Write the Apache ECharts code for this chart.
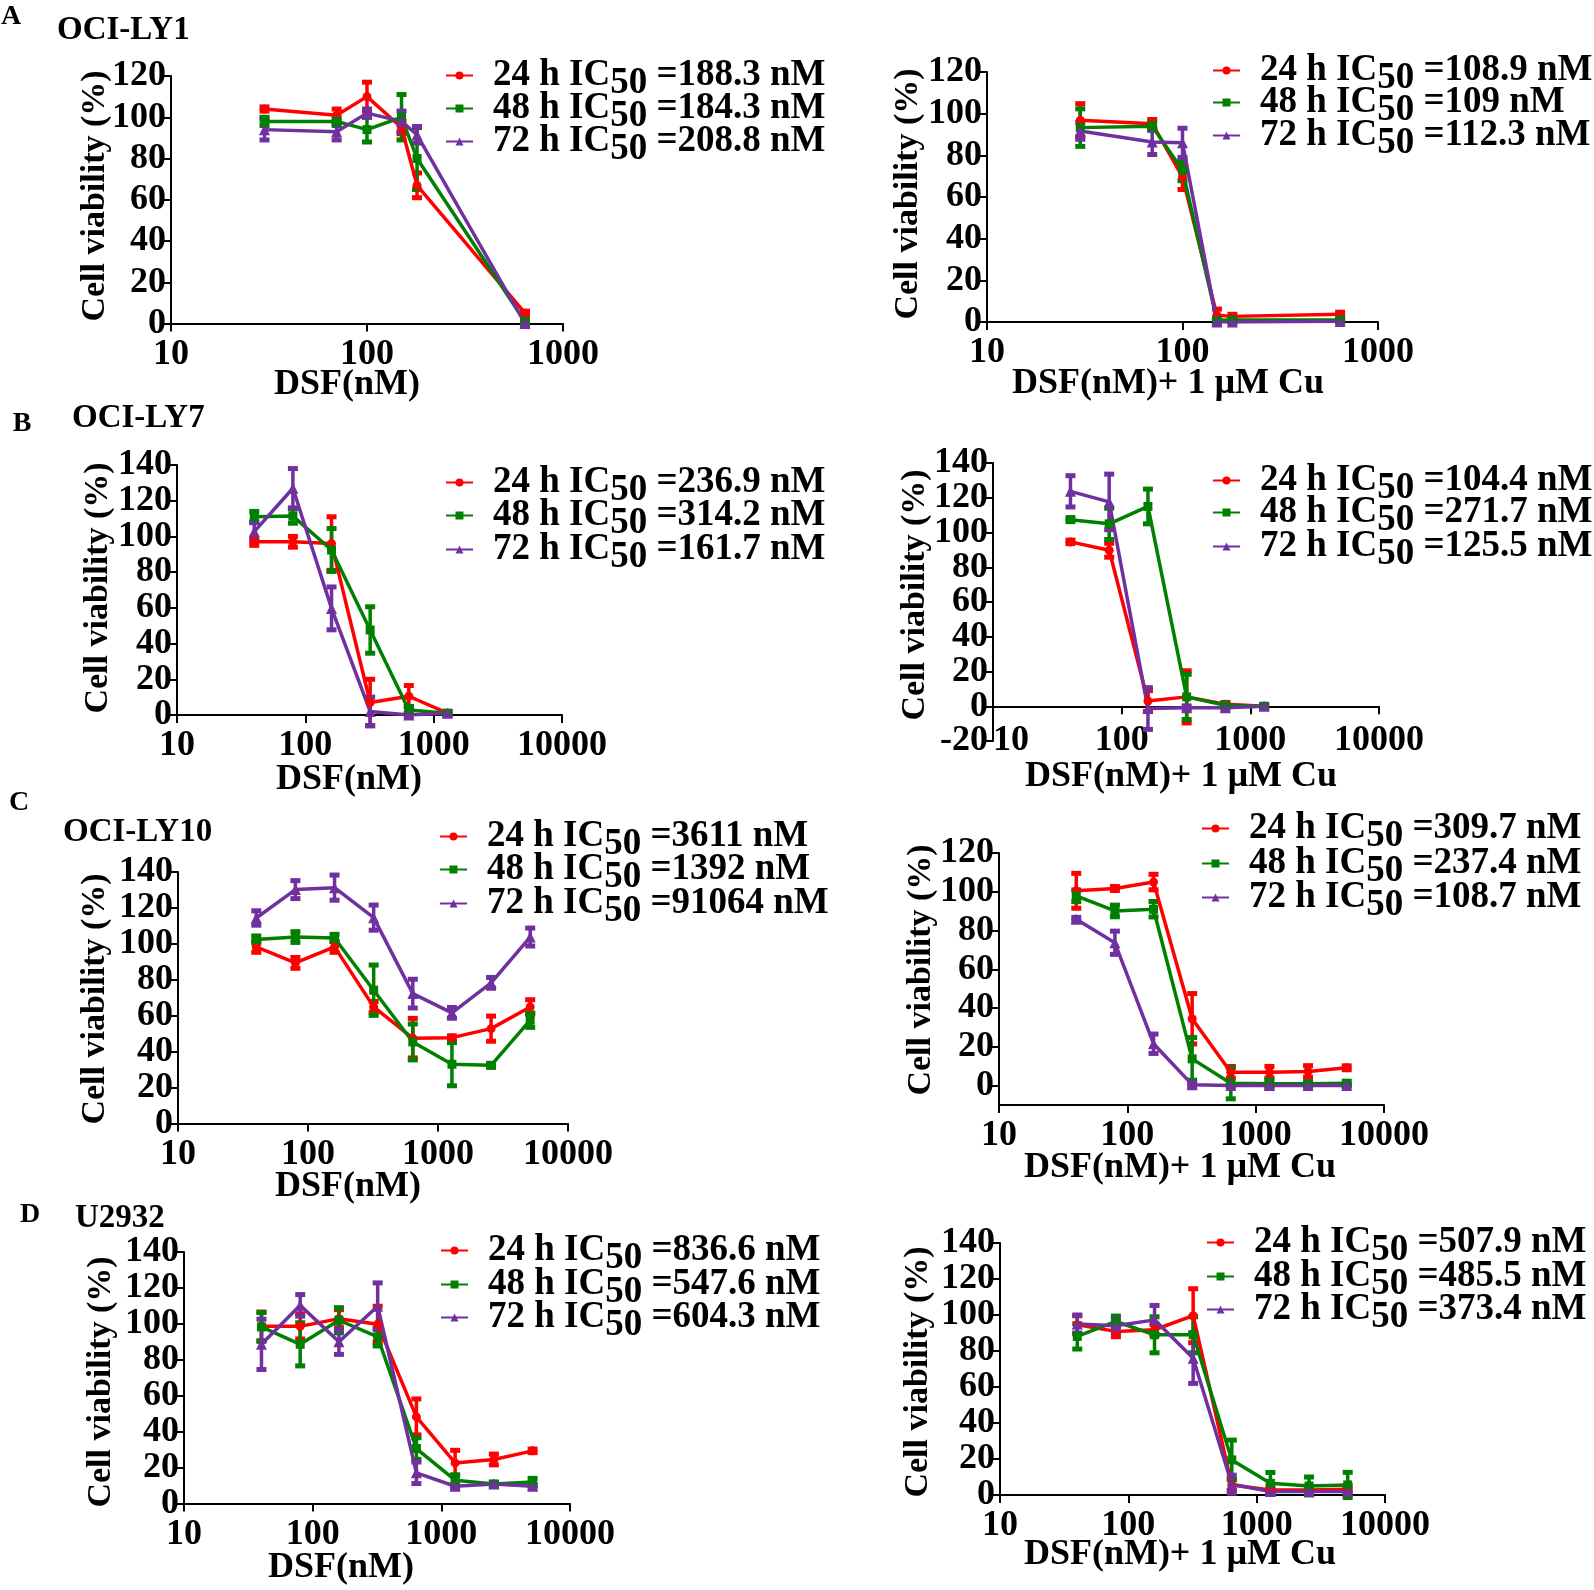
<!DOCTYPE html>
<html lang="en">
<head>
<meta charset="UTF-8">
<script src="https://cdn.jsdelivr.net/npm/echarts@6.0.0/dist/echarts.min.js"></script>
<style>
  html, body { margin: 0; padding: 0; background: #fff; }
  #chart { width: 1594px; height: 1590px; }
</style>
</head>
<body>
<div id="chart"></div>
<script>
// DSF concentrations (nM)
const concA = [30, 70, 100, 150, 180, 640];
const concB = [40, 80, 160, 320, 640, 1280];
const concCD = [40, 80, 160, 320, 640, 1280, 2560, 5120];
const hours = ['24', '48', '72'];
// y tick values
const yTicks120 = [0, 20, 40, 60, 80, 100, 120];
const yTicks140 = [0, 20, 40, 60, 80, 100, 120, 140];
const yTicksNeg = [-20, 0, 20, 40, 60, 80, 100, 120, 140];

// A  OCI-LY1, DSF
const a1v24 = [104, 101, 110, 95, 67, 5];
const a1v48 = [98, 98, 94, 100, 80, 1];
const a1v72 = [94, 93, 102, 98, 91.5, 0];
const a1e24 = [1, 3, 7, 3, 6, 1];
const a1e48 = [2, 2, 6, 11, 15, 1];
const a1e72 = [5, 4, 2, 5, 4, 1];
const a1ic = ['188.3', '184.3', '208.8'];
// A  OCI-LY1, DSF + Cu
const a2v24 = [96.8, 95.2, 69.6, 3.2, 2.7, 3.7];
const a2v48 = [93.3, 94, 72.8, 0.8, 1, 1];
const a2v72 = [91.7, 86.4, 86, 0, 0, 0.3];
const a2e24 = [8, 2, 6, 3, 1, 1];
const a2e48 = [9, 2, 5, 1, 1, 1];
const a2e72 = [4, 6, 7, 1, 0.5, 0.5];
const a2ic = ['108.9', '109', '112.3'];

// B  OCI-LY7, DSF
const b1v24 = [97, 97, 96, 7, 10.5, 1];
const b1v48 = [111, 111.4, 92.4, 47.6, 2.8, 1];
const b1v72 = [102.7, 127, 59.7, 2, 0, 1];
const b1e24 = [2, 3, 15, 13, 6, 1];
const b1e48 = [3, 4, 12, 13, 2, 1];
const b1e72 = [5, 11, 12, 8, 1, 1];
const b1ic = ['236.9', '314.2', '161.7'];
// B  OCI-LY7, DSF + Cu
const b2v24 = [94.6, 89.8, 3, 5.4, 1.2, 0];
const b2v48 = [107.4, 105, 115, 5.4, 0.6, 0];
const b2v72 = [123.7, 117.6, -1.3, -0.8, -0.8, 0];
const b2e24 = [1, 4, 6, 15, 1, 1];
const b2e48 = [1, 9, 10, 13, 1, 1];
const b2e72 = [9, 16, 12, 1, 1, 1];
const b2ic = ['104.4', '271.7', '125.5'];

// C  OCI-LY10, DSF
const c1v24 = [98.3, 89.4, 98.3, 64.9, 47.5, 47.8, 52.8, 64.9];
const c1v48 = [102.4, 103.8, 103.3, 74.2, 45.4, 33, 32.4, 57.5];
const c1v72 = [114.4, 130.2, 131.3, 114.6, 72.3, 61.6, 78.3, 103.8];
const c1e24 = [3, 3, 3, 3, 11, 1, 7, 4];
const c1e48 = [2, 3, 2, 14, 10, 12, 1, 4];
const c1e72 = [4, 5, 7, 7, 8, 3, 3, 5];
const c1ic = ['3611', '1392', '91064'];
// C  OCI-LY10, DSF + Cu
const c2v24 = [100.5, 101.7, 105, 34.5, 6.9, 6.9, 7.3, 9.2];
const c2v48 = [97.9, 90.1, 91, 13.8, 1.2, 0.9, 0.9, 1.2];
const c2v72 = [85.8, 73.7, 21.6, 0.5, 0, 0, 0, 0];
const c2e24 = [9, 1, 4, 13, 3, 3, 3, 1];
const c2e48 = [3, 3, 4, 11, 8, 2, 1, 1];
const c2e72 = [1, 6, 5, 1, 0.5, 0.5, 0.5, 0.5];
const c2ic = ['309.7', '237.4', '108.7'];

// D  U2932, DSF
const d1v24 = [98.6, 98.6, 102.9, 99.8, 48.2, 22.6, 24.5, 29.3];
const d1v48 = [98.3, 88.6, 102, 92.7, 30.6, 13, 10.8, 12];
const d1v72 = [88.6, 110.3, 90, 109.8, 17.1, 9.6, 10.8, 9.6];
const d1e24 = [8, 7, 5, 10, 10, 7, 3, 1];
const d1e48 = [8, 12, 7, 5, 6, 3, 1, 2];
const d1e72 = [14, 6, 7, 13, 6, 1, 1, 1];
const d1ic = ['836.6', '547.6', '604.3'];
// D  U2932, DSF + Cu
const d2v24 = [94.6, 90.9, 91.8, 99.6, 5.6, 2.8, 2.8, 3.2];
const d2v48 = [88.1, 96.4, 89, 89, 19.5, 6.5, 5, 5.6];
const d2v72 = [95, 94, 97.3, 76, 6, 1.9, 1.9, 1.9];
const d2e24 = [5, 3, 3, 15, 3, 2, 2, 2];
const d2e48 = [7, 3, 10, 10, 11, 6, 5, 7];
const d2e72 = [5, 4, 8, 14, 5, 1, 1, 1];
const d2ic = ['507.9', '485.5', '373.4'];

const FONT = 'Liberation Serif';
const colors = ['#ff0000', '#008000', '#7030a0'];
const symbols = ['circle', 'rect', 'triangle'];
const symbolSizes = [9, 9, 11];
const xNameCu = 'DSF(nM)+ 1 \u00b5M Cu';

// layout of each panel: grid [left, top, width, height], legend [left, row centres...], title centres
const panels = [
  { id: 'A1', conc: concA, vals: [a1v24, a1v48, a1v72], errs: [a1e24, a1e48, a1e72], ic: a1ic,
    xMax: 1000, yMin: 0, yMax: 120, yTicks: yTicks120, grid: [171, 76, 392, 247.5], legend: [445, 73, 106, 139],
    yTitle: [95, 196], xTitle: [347, 385], xName: 'DSF(nM)' },
  { id: 'A2', conc: concA, vals: [a2v24, a2v48, a2v72], errs: [a2e24, a2e48, a2e72], ic: a2ic,
    xMax: 1000, yMin: 0, yMax: 120, yTicks: yTicks120, grid: [987, 72, 391, 250], legend: [1212, 68, 100, 133],
    yTitle: [908, 194], xTitle: [1168, 384], xName: xNameCu },
  { id: 'B1', conc: concB, vals: [b1v24, b1v48, b1v72], errs: [b1e24, b1e48, b1e72], ic: b1ic,
    xMax: 10000, yMin: 0, yMax: 140, yTicks: yTicks140, grid: [177, 465, 385, 250], legend: [445, 480, 513, 547],
    yTitle: [98, 588], xTitle: [349, 780], xName: 'DSF(nM)' },
  { id: 'B2', conc: concB, vals: [b2v24, b2v48, b2v72], errs: [b2e24, b2e48, b2e72], ic: b2ic,
    xMax: 10000, yMin: -20, yMax: 140, yTicks: yTicksNeg, grid: [993, 463, 386, 278], legend: [1212, 478, 510, 544],
    yTitle: [915, 595], xTitle: [1181, 777], xName: xNameCu, zeroLine: true },
  { id: 'C1', conc: concCD, vals: [c1v24, c1v48, c1v72], errs: [c1e24, c1e48, c1e72], ic: c1ic,
    xMax: 10000, yMin: 0, yMax: 140, yTicks: yTicks140, grid: [178, 872, 390, 251.5], legend: [439, 834, 867, 901],
    yTitle: [95, 999], xTitle: [348, 1187], xName: 'DSF(nM)' },
  { id: 'C2', conc: concCD, vals: [c2v24, c2v48, c2v72], errs: [c2e24, c2e48, c2e72], ic: c2ic,
    xMax: 10000, yMin: -10, yMax: 120, yTicks: yTicks120, grid: [999, 853, 385, 252], legend: [1201, 826, 861, 895],
    yTitle: [921, 970], xTitle: [1180, 1168], xName: xNameCu },
  { id: 'D1', conc: concCD, vals: [d1v24, d1v48, d1v72], errs: [d1e24, d1e48, d1e72], ic: d1ic,
    xMax: 10000, yMin: 0, yMax: 140, yTicks: yTicks140, grid: [184, 1252, 386, 251.5], legend: [440, 1248, 1282, 1315],
    yTitle: [101, 1382], xTitle: [341, 1568], xName: 'DSF(nM)' },
  { id: 'D2', conc: concCD, vals: [d2v24, d2v48, d2v72], errs: [d2e24, d2e48, d2e72], ic: d2ic,
    xMax: 10000, yMin: 0, yMax: 140, yTicks: yTicks140, grid: [1000, 1243, 385, 252], legend: [1206, 1240, 1274, 1307],
    yTitle: [918, 1372], xTitle: [1180, 1555], xName: xNameCu }
];

const sideLabels = [
  ['A', 11, 17, 28, 'center'], ['B', 22, 424, 28, 'center'], ['C', 19, 803, 28, 'center'], ['D', 30, 1215, 28, 'center'],
  ['OCI-LY1', 57, 30, 33, 'left'], ['OCI-LY7', 72, 418, 33, 'left'], ['OCI-LY10', 63, 832, 33, 'left'], ['U2932', 75, 1218, 33, 'left']
];

const chart = echarts.init(document.getElementById('chart'));

const labelFont = { color: '#000', fontFamily: FONT, fontWeight: 'bold', fontSize: 36 };
const axisLineStyle = { color: '#000', width: 2 };
const fmtLog = v => String(Math.round(v));

function errorBar(params, api) {
  const x = api.value(0);
  const lo = api.coord([x, api.value(1)]);
  const hi = api.coord([x, api.value(2)]);
  const color = api.visual('color');
  const cap = 5;
  return {
    type: 'group',
    children: [
      { type: 'line', shape: { x1: lo[0], y1: lo[1], x2: hi[0], y2: hi[1] }, style: { stroke: color, lineWidth: 3.5 } },
      { type: 'line', shape: { x1: hi[0] - cap, y1: hi[1], x2: hi[0] + cap, y2: hi[1] }, style: { stroke: color, lineWidth: 5 } },
      { type: 'line', shape: { x1: lo[0] - cap, y1: lo[1], x2: lo[0] + cap, y2: lo[1] }, style: { stroke: color, lineWidth: 5 } }
    ]
  };
}

const legendText = {
  color: '#000', fontFamily: FONT, fontWeight: 'bold', fontSize: 37, lineHeight: 30,
  rich: {
    g: { width: 15, fontSize: 37, lineHeight: 30 },
    t: { color: '#000', fontFamily: FONT, fontWeight: 'bold', fontSize: 37, lineHeight: 30 },
    s: { color: '#000', fontFamily: FONT, fontWeight: 'bold', fontSize: 37, height: 14, lineHeight: 14, verticalAlign: 'bottom' }
  }
};

const grids = [], xAxes = [], yAxes = [], series = [], legends = [], graphics = [];
const icText = {};

panels.forEach((p, i) => {
  grids.push({ left: p.grid[0], top: p.grid[1], width: p.grid[2], height: p.grid[3],
    containLabel: false, outerBoundsMode: 'none' });

  const xi = xAxes.length;
  xAxes.push({
    type: 'log', logBase: 10, gridIndex: i, min: 10, max: p.xMax, position: 'bottom',
    axisLine: { show: true, onZero: !!p.zeroLine, lineStyle: axisLineStyle },
    axisTick: { show: true, length: 8, lineStyle: axisLineStyle },
    minorTick: { show: false }, splitLine: { show: false },
    axisLabel: Object.assign({ show: !p.zeroLine, margin: 13, hideOverlap: false,
      showMinLabel: true, showMaxLabel: true, formatter: fmtLog }, labelFont)
  });
  if (p.zeroLine) {
    // tick labels stay at the bottom while the axis line sits on zero
    xAxes.push({
      type: 'log', logBase: 10, gridIndex: i, min: 10, max: p.xMax, position: 'bottom',
      axisLine: { show: false, onZero: false }, axisTick: { show: false },
      minorTick: { show: false }, splitLine: { show: false },
      axisLabel: Object.assign({ margin: 0, verticalAlign: 'middle', alignMinLabel: 'left',
        hideOverlap: false, showMinLabel: true, showMaxLabel: true, formatter: fmtLog }, labelFont)
    });
  }

  // labels are split over two stacked y axes so none of them is culled for overlap
  const yi = yAxes.length;
  const evenTicks = p.yTicks.filter((v, j) => j % 2 === 0);
  const oddTicks = p.yTicks.filter((v, j) => j % 2 === 1);
  yAxes.push({
    type: 'value', gridIndex: i, min: p.yMin, max: p.yMax, position: 'left', offset: 0,
    axisLine: { show: true, onZero: false, lineStyle: axisLineStyle },
    axisTick: { show: true, length: 8, lineStyle: axisLineStyle, customValues: p.yTicks },
    splitLine: { show: false },
    axisLabel: Object.assign({ margin: 5, hideOverlap: false, showMinLabel: true, showMaxLabel: true,
      customValues: evenTicks }, labelFont)
  });
  yAxes.push({
    type: 'value', gridIndex: i, min: p.yMin, max: p.yMax, position: 'left', offset: 0,
    axisLine: { show: false, onZero: false }, axisTick: { show: false }, splitLine: { show: false },
    axisLabel: Object.assign({ margin: 5, hideOverlap: false, showMinLabel: true, showMaxLabel: true,
      customValues: oddTicks }, labelFont)
  });

  hours.forEach((h, k) => {
    const name = p.id + '-' + h;
    icText[name] = '{g| }{t|' + h + ' h IC}{s|50}{t| =' + p.ic[k] + ' nM}';
    series.push({
      type: 'custom', name: name + '-err', xAxisIndex: xi, yAxisIndex: yi,
      itemStyle: { color: colors[k] }, silent: true, z: 2,
      encode: { x: 0, y: [1, 2] },
      data: p.conc.map((c, j) => [c, p.vals[k][j] - p.errs[k][j], p.vals[k][j] + p.errs[k][j]]),
      renderItem: errorBar
    });
    series.push({
      type: 'line', name: name, xAxisIndex: xi, yAxisIndex: yi, z: 3,
      symbol: symbols[k], symbolSize: symbolSizes[k], showSymbol: true,
      lineStyle: { color: colors[k], width: 3.5 }, itemStyle: { color: colors[k] },
      data: p.conc.map((c, j) => [c, p.vals[k][j]])
    });
    // one legend per row so the row spacing can follow the figure
    legends.push({
      left: p.legend[0], top: p.legend[k + 1] - 16, orient: 'vertical', padding: 0,
      itemWidth: 27, itemHeight: 10, selectedMode: false, data: [name],
      formatter: n => icText[n], textStyle: legendText
    });
  });

  graphics.push({
    type: 'text', x: p.yTitle[0], y: p.yTitle[1], rotation: Math.PI / 2,
    style: { text: 'Cell viability (%)', font: 'bold 34px "Liberation Serif"', fill: '#000',
      textAlign: 'center', textVerticalAlign: 'middle', align: 'center', verticalAlign: 'middle' }
  });
  graphics.push({
    type: 'text', x: p.xTitle[0], y: p.xTitle[1],
    style: { text: p.xName, font: 'bold 36px "Liberation Serif"', fill: '#000',
      textAlign: 'center', textVerticalAlign: 'middle', align: 'center', verticalAlign: 'middle' }
  });
});

sideLabels.forEach(([text, x, y, size, align]) => {
  graphics.push({
    type: 'text', x: x, y: y,
    style: { text: text, font: 'bold ' + size + 'px "Liberation Serif"', fill: '#000',
      textAlign: align, textVerticalAlign: 'middle', align: align, verticalAlign: 'middle' }
  });
});

chart.setOption({
  animation: false,
  backgroundColor: '#fff',
  grid: grids,
  xAxis: xAxes,
  yAxis: yAxes,
  legend: legends,
  series: series,
  graphic: graphics
});

window.addEventListener('resize', () => chart.resize());
</script>
</body>
</html>
